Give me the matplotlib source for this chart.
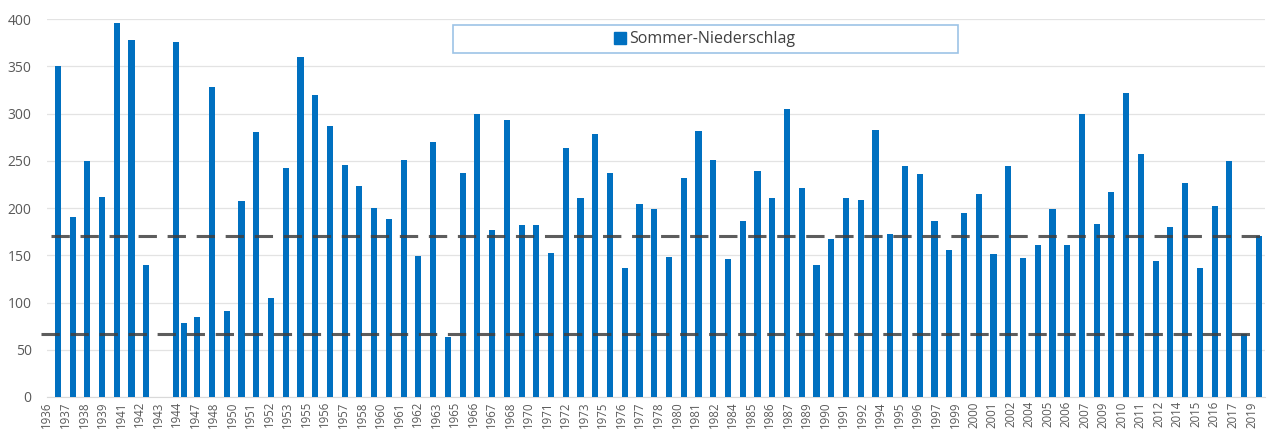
import matplotlib
matplotlib.use("Agg")
import matplotlib.pyplot as plt
from matplotlib.patches import Rectangle
import numpy as np

plt.rcParams['font.family'] = ['Open Sans', 'DejaVu Sans']

# summer precipitation per slot (None = no bar)
values = [350, 190, 250, 212, 396, 378, 140, None, 376, 85, 328, 91, 207, 280,
          105, 242, 360, 320, 287, 246, 223, 200, 188, 251, 149, 270, 64, 237,
          299, 177, 293, 182, 182, 152, 263, 211, 278, 237, 136, 204, 199, 148,
          232, 281, 251, 146, 186, 239, 211, 305, 221, 140, 167, 211, 209, 283,
          173, 245, 236, 186, 156, 195, 215, 151, 244, 147, 161, 199, 161, 300,
          183, 217, 322, 257, 144, 180, 226, 137, 202, 250, 67, 170]
# second 1944 entry squeezed in after slot 8; later slots move half a step
extra_pos = 8.55
extra_val = 78
shift_after = 9

tick_labels = ["1936", "1937", "1938", "1939", "1941", "1942", "1943", "1944",
               "1947", "1948", "1950", "1951", "1952", "1953", "1955", "1956",
               "1957", "1958", "1960", "1961", "1962", "1963", "1965", "1966",
               "1967", "1968", "1970", "1971", "1972", "1973", "1975", "1976",
               "1977", "1978", "1980", "1981", "1982", "1984", "1985", "1986",
               "1987", "1989", "1990", "1991", "1992", "1994", "1995", "1996",
               "1997", "1999", "2000", "2001", "2002", "2004", "2005", "2006",
               "2007", "2009", "2010", "2011", "2012", "2014", "2015", "2016",
               "2017", "2019"]

upper_ref = 170
lower_ref = 67

BLUE = "#0070C0"
GRAY = "#595959"

fig = plt.figure(figsize=(12.69, 4.41), dpi=100)
ax = fig.add_axes([0.037, 0.0998, 0.960, 0.857])

idx = np.arange(len(values))
x = np.where(idx >= shift_after, idx + 0.45, idx)
h = np.array([np.nan if v is None else v for v in values], dtype=float)
ax.bar(x, np.nan_to_num(h), width=0.42, color=BLUE, zorder=3)
ax.bar([extra_pos], [extra_val], width=0.42, color=BLUE, zorder=3)

ax.set_xlim(-0.47, x[-1] + 0.43)
ax.set_ylim(0, 400)

ax.plot([-1.15, x[-1] - 0.5], [lower_ref] * 2, color="#404040", lw=2.2,
        ls=(0, (6, 3.5)), zorder=4, clip_on=False, alpha=0.85)
ax.plot([-0.45, x[-1] + 1], [upper_ref] * 2, color="#404040", lw=2.2,
        ls=(0, (6, 3.5)), zorder=4, clip_on=False, alpha=0.85)

ax.set_yticks(np.arange(0, 401, 50))
ax.yaxis.grid(True, color="#e3e3e3", lw=0.9, zorder=0)
ax.tick_params(axis='y', length=0, labelsize=10, labelcolor=GRAY, pad=11)

ax.set_xticks(np.linspace(-0.74, x[-1] - 0.5, len(tick_labels)))
ax.set_xticklabels(tick_labels, rotation=90, fontsize=8.3, color=GRAY)
ax.tick_params(axis='x', length=0, pad=3)

for s in ["top", "right", "left"]:
    ax.spines[s].set_visible(False)
ax.spines["bottom"].set_color("#d9d9d9")

# legend box
ax.add_patch(Rectangle((0.333, 0.909), 0.415, 0.074, transform=ax.transAxes,
                       fill=False, ec="#9dc3e6", lw=1.2, zorder=5))
h1 = Rectangle((0, 0), 1, 1, color=BLUE)
ax.legend([h1], ["Sommer-Niederschlag"], loc="center",
          bbox_to_anchor=(0.54, 0.946), frameon=False, fontsize=11.5,
          handlelength=0.75, handleheight=0.75, handletextpad=0.2,
          labelcolor="#404040")

fig.savefig("out.png", dpi=100, facecolor="white")
